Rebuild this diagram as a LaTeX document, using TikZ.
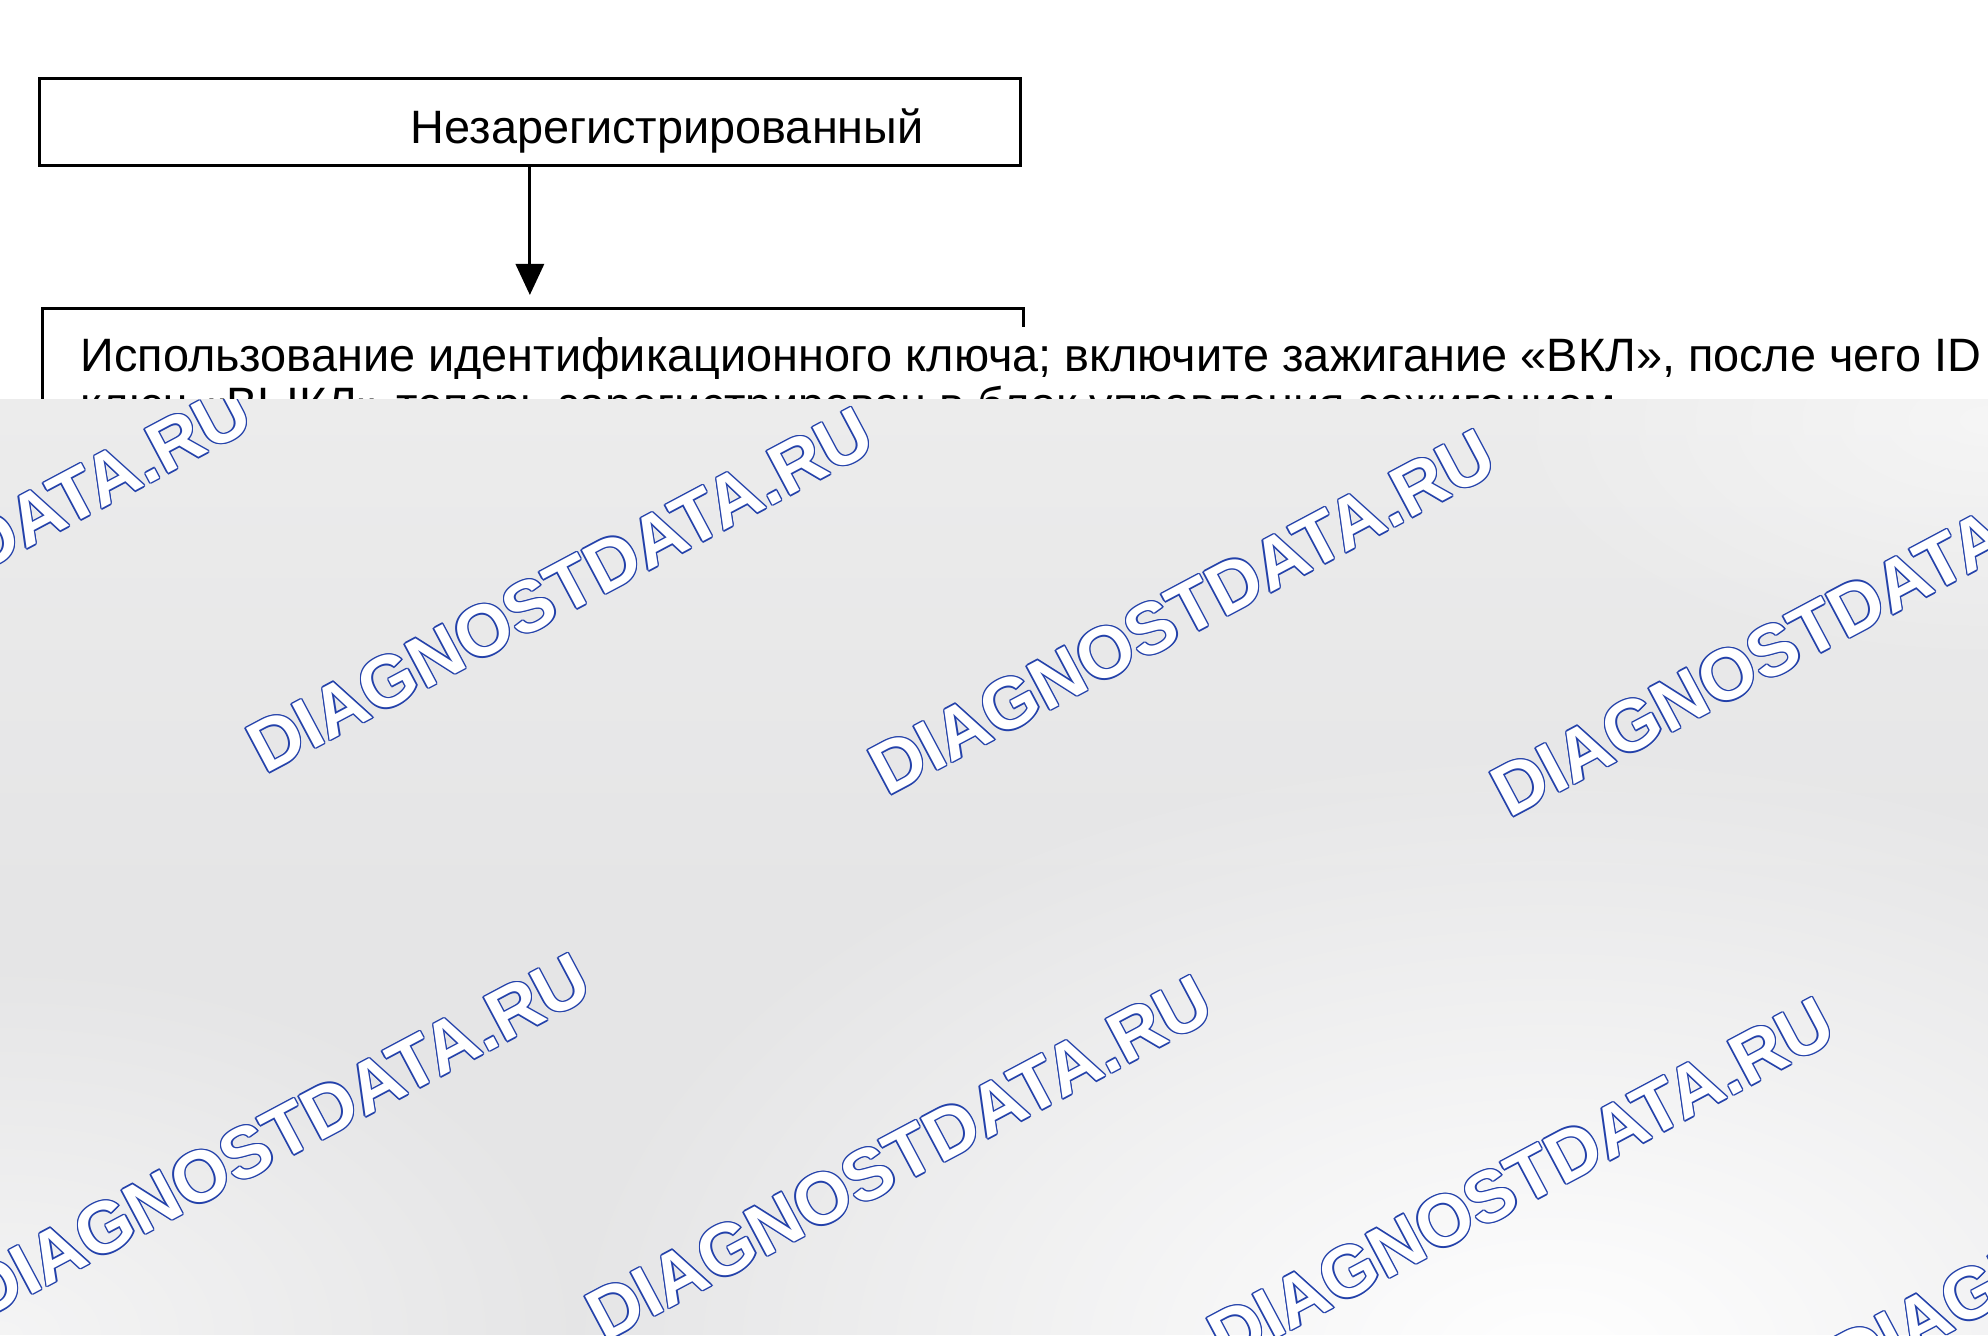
\documentclass[tikz,border=0pt]{standalone}
\usepackage{fontspec}
\setmainfont{Liberation Sans}
\usetikzlibrary{arrows.meta,fadings}

\definecolor{paneltop}{HTML}{ECECEC}
\definecolor{panelgray}{HTML}{E5E5E6}
\definecolor{markblue}{RGB}{35,65,170}
\tikzfading[name=softglow, inner color=transparent!0, outer color=transparent!100]

\tikzset{
  box/.style={draw=black, line width=0.9pt, inner sep=0pt},
  txt/.style={font=\fontsize{13.32}{13.9}\selectfont, inner sep=0pt},
  arr/.style={-{Triangle[length=0.31cm,width=0.28cm]}, line width=0.9pt},
  wmark/.style={font=\fontsize{20.5}{24}\selectfont\bfseries, inner sep=0pt, rotate=28},
  glow/.style={white, path fading=softglow}
}

\begin{document}
\begin{tikzpicture}[x=0.01cm, y=-0.01cm]
\useasboundingbox (0,0) rectangle (1988,1335);

% boxes
\node[box, anchor=north west, minimum width=9.8cm, minimum height=0.87cm] (unreg) at (38,77) {};
\node[txt, anchor=base west] (unregtext) at (410,143) {Незарегистрированный};
\node[box, anchor=north west, minimum width=9.8cm, minimum height=3cm] (idbox) at (41,307) {};
\node[txt, anchor=base west, fill=white, inner xsep=0.06cm, inner ysep=0.1cm, text depth=0pt]
  (idline1) at (74,371) {Использование идентификационного ключа; включите зажигание «ВКЛ», после чего ID};
\node[txt, anchor=base west, fill=white, inner xsep=0.06cm, inner ysep=0.07cm]
  (idline2) at (74,420) {ключ «ВЫКЛ» теперь зарегистрирован в блок управления зажиганием};

\draw[arr, shorten >=0.12cm] (unreg.south) -- (unreg.south |- idbox.north);

% grey panel with watermarks
\begin{scope}
  \clip (0,399) rectangle (1988,1335);
  \shade[top color=paneltop, bottom color=panelgray] (0,399) rectangle (1988,900);
  \fill[panelgray] (0,899) rectangle (1988,1335);
  \fill[glow] (1550,1360) ellipse (1000 and 620);
  \fill[glow, opacity=0.6] (0,1335) ellipse (600 and 380);
  \fill[glow, opacity=0.5] (1988,420) ellipse (500 and 250);
  \foreach \wx/\wy in {-62/568, 560/590, 1182/612, 1804/634,
                       -345/1114, 277/1136, 899/1158, 1521/1180, 2143/1202} {
    \foreach \a in {0,45,...,315}
      \node[wmark, text=markblue] at ([shift={(\a:0.4pt)}]\wx,\wy) {DIAGNOSTDATA.RU};
    \node[wmark, text=white] at (\wx,\wy) {DIAGNOSTDATA.RU};
  }
\end{scope}
\end{tikzpicture}
\end{document}
